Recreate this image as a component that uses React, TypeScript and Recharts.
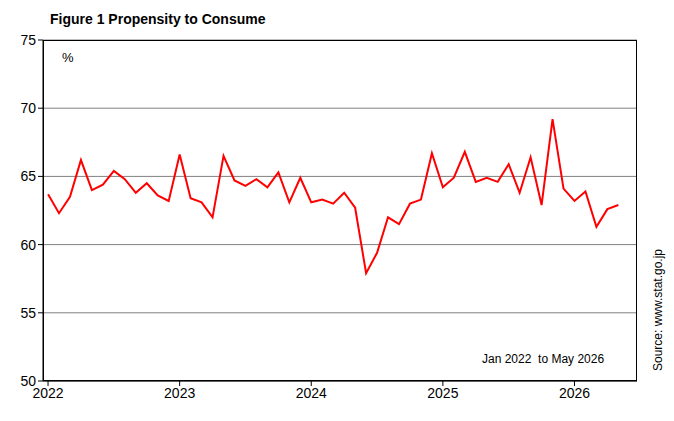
import React from 'react';
import { LineChart, Line, XAxis, YAxis, CartesianGrid } from 'recharts';

const YEARS = ['2022', '2023', '2024', '2025', '2026'];
const Y_TICKS = [50, 55, 60, 65, 70, 75];
const VALUES = [
  63.7, 62.3, 63.5, 66.2, 64.0, 64.4, 65.4, 64.8, 63.8, 64.5, 63.6, 63.2,
  66.6, 63.4, 63.1, 62.0, 66.5, 64.7, 64.3, 64.8, 64.2, 65.3, 63.1, 64.9,
  63.1, 63.3, 63.0, 63.8, 62.7, 57.9, 59.4, 62.0, 61.5, 63.0, 63.3, 66.7,
  64.2, 64.9, 66.8, 64.6, 64.9, 64.6, 65.9, 63.8, 66.4, 62.9, 69.2, 64.1,
  63.2, 63.9, 61.3, 62.6, 62.9,
];

const data = VALUES.map((v, i) => ({ i, v }));
const font = '"Liberation Sans", Arial, sans-serif';

export default function App() {
  return (
    <div style={{ position: 'fixed', left: 0, top: 0, width: 674, height: 421, background: '#fff', fontFamily: font }}>
      <LineChart width={674} height={421} data={data} margin={{ top: 40, right: 37, bottom: 18, left: 0 }}>
        <CartesianGrid vertical={false} stroke="#808080" />
        <XAxis
          dataKey="i"
          type="number"
          domain={[-0.46, 53.7]}
          ticks={[0, 12, 24, 36, 48]}
          tickFormatter={(v) => YEARS[v / 12]}
          tick={{ fill: '#000', fontSize: 14, fontFamily: font }}
          stroke="#000"
          tickSize={5}
          height={22}
        />
        <YAxis
          domain={[50, 75]}
          ticks={Y_TICKS}
          tick={{ fill: '#000', fontSize: 14, fontFamily: font }}
          stroke="#000"
          tickSize={5}
          width={43}
        />
        <Line dataKey="v" stroke="#ff0000" strokeWidth={2} dot={false} isAnimationActive={false} />
      </LineChart>
      <div style={{ position: 'absolute', left: 43, top: 40, width: 594, height: 341, border: '1px solid #000', boxSizing: 'border-box', pointerEvents: 'none' }} />
      <div style={{ position: 'absolute', left: 50, top: 11, fontSize: 14, fontWeight: 'bold' }}>Figure 1 Propensity to Consume</div>
      <div style={{ position: 'absolute', left: 62, top: 50, fontSize: 13 }}>%</div>
      <div style={{ position: 'absolute', left: 482, top: 352, fontSize: 12 }}>Jan 2022&nbsp; to May 2026</div>
      <div style={{ position: 'absolute', left: 658, top: 310, fontSize: 12, transform: 'translate(-50%, -50%) rotate(-90deg)', whiteSpace: 'nowrap' }}>Source: www.stat.go.jp</div>
    </div>
  );
}
